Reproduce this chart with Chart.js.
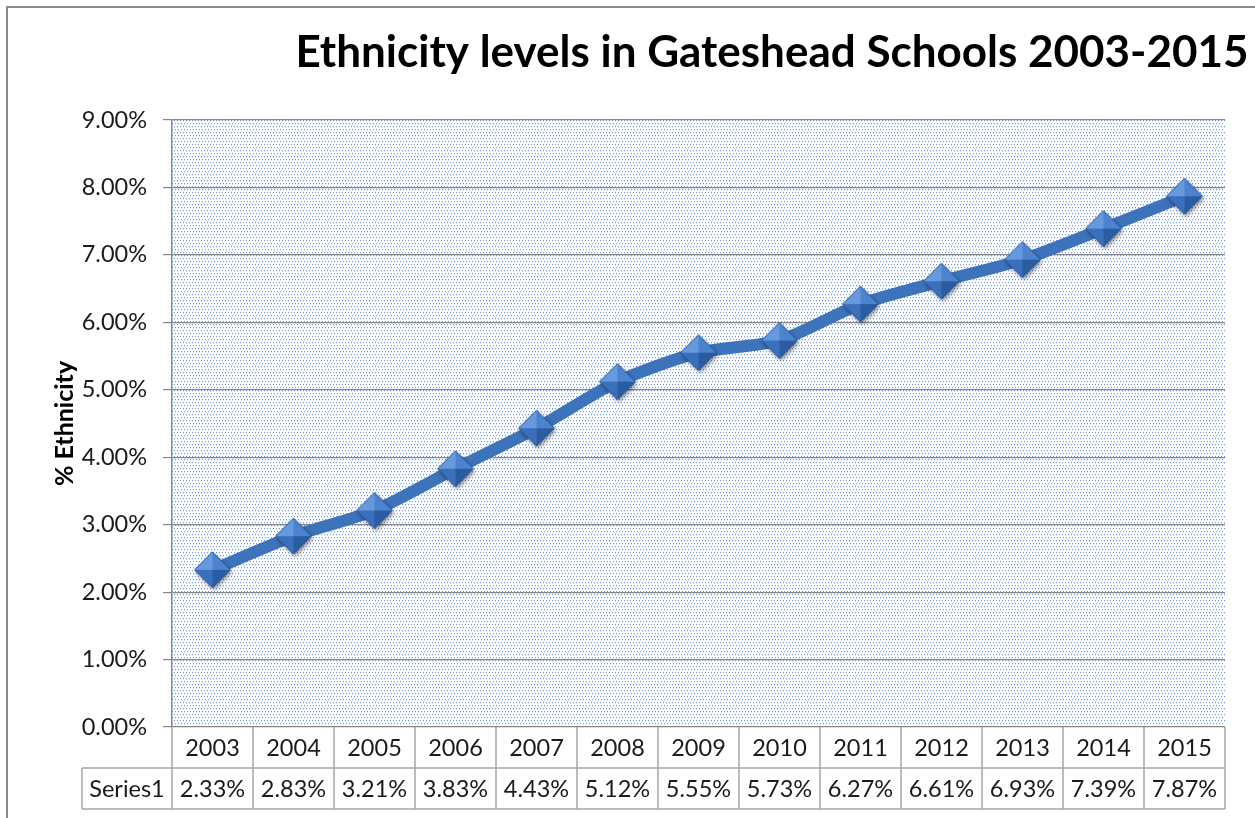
<!DOCTYPE html>
<html>
<head>
<meta charset="utf-8">
<script src="https://cdn.jsdelivr.net/npm/chart.js@4.4.0/dist/chart.umd.min.js"></script>
<style>
  html, body { margin: 0; padding: 0; background: #fff; overflow: hidden; }
  #wrap { width: 1255px; height: 818px; }
</style>
</head>
<body>
<div id="wrap"><canvas id="chart"></canvas></div>
<script>
// data
const years = ['2003', '2004', '2005', '2006', '2007', '2008', '2009', '2010', '2011', '2012', '2013', '2014', '2015'];
const ethnicity = [2.33, 2.83, 3.21, 3.83, 4.43, 5.12, 5.55, 5.73, 6.27, 6.61, 6.93, 7.39, 7.87];
const seriesName = 'Series1';
const chartTitle = 'Ethnicity levels in Gateshead Schools 2003-2015';
const yTitle = '% Ethnicity';

const FONT = 'Lato, "Open Sans", sans-serif';
const pct = v => v.toFixed(2) + '%';

// dotted fill of the plot area
function dotPattern(ctx) {
  const t = document.createElement('canvas');
  t.width = 6; t.height = 6;
  const g = t.getContext('2d');
  g.fillStyle = '#ffffff';
  g.fillRect(0, 0, 6, 6);
  g.fillStyle = '#6e9be0';
  [[0, 0], [3, 0], [1, 3], [4, 3]].forEach(p => g.fillRect(p[0], p[1], 1, 1));
  g.fillStyle = '#dbe6f7';
  [[0, 1], [3, 1], [1, 4], [4, 4]].forEach(p => g.fillRect(p[0], p[1], 1, 1));
  return ctx.createPattern(t, 'repeat');
}

// bevelled diamond marker
function diamond() {
  const s = 48, c = 24, r = 18;
  const cv = document.createElement('canvas');
  cv.width = s; cv.height = s;
  const g = cv.getContext('2d');
  const T = [c, c - r], R = [c + r, c], B = [c, c + r], L = [c - r, c];
  g.save();
  g.shadowColor = 'rgba(0,0,0,0.45)';
  g.shadowBlur = 4;
  g.shadowOffsetX = 1.5;
  g.shadowOffsetY = 2.5;
  g.beginPath();
  g.moveTo(T[0], T[1]); g.lineTo(R[0], R[1]); g.lineTo(B[0], B[1]); g.lineTo(L[0], L[1]);
  g.closePath();
  g.fillStyle = '#3a6fb8';
  g.fill();
  g.restore();
  const facet = (a, b, col) => {
    g.beginPath();
    g.moveTo(c, c); g.lineTo(a[0], a[1]); g.lineTo(b[0], b[1]);
    g.closePath();
    g.fillStyle = col;
    g.fill();
  };
  facet(L, T, '#659ade');
  facet(T, R, '#4c83cf');
  facet(L, B, '#3a70bb');
  facet(B, R, '#2b5ca2');
  g.beginPath();
  g.moveTo(T[0], T[1]); g.lineTo(R[0], R[1]); g.lineTo(B[0], B[1]); g.lineTo(L[0], L[1]);
  g.closePath();
  g.strokeStyle = '#2a5494';
  g.lineWidth = 1;
  g.stroke();
  return cv;
}

const framePlugin = {
  id: 'frame',
  beforeDraw(chart) {
    const { ctx, chartArea: a } = chart;
    ctx.save();
    ctx.fillStyle = '#ffffff';
    ctx.fillRect(0, 0, chart.width, chart.height);
    ctx.strokeStyle = '#8c8c8c';
    ctx.lineWidth = 2;
    ctx.beginPath();
    ctx.moveTo(7, chart.height);
    ctx.lineTo(7, 7);
    ctx.lineTo(chart.width, 7);
    ctx.stroke();
    ctx.fillStyle = dotPattern(ctx);
    ctx.fillRect(a.left, a.top, a.right - a.left, a.bottom - a.top);
    ctx.restore();
  },
  afterDraw(chart) {
    const { ctx, chartArea: a } = chart;
    const x = chart.scales.x;
    // title
    ctx.save();
    ctx.fillStyle = '#000000';
    ctx.font = 'bold 44px ' + FONT;
    ctx.textAlign = 'center';
    ctx.textBaseline = 'middle';
    ctx.fillText(chartTitle, 772, 53);

    // data table
    const n = years.length;
    const w = x.getPixelForValue(1) - x.getPixelForValue(0);
    const rowH = 41;
    const top = a.bottom, mid = top + rowH, bot = mid + rowH;
    const labelLeft = a.left - 90;
    ctx.strokeStyle = '#a6a6a6';
    ctx.lineWidth = 1.5;
    ctx.beginPath();
    ctx.moveTo(labelLeft, mid); ctx.lineTo(a.right, mid);
    ctx.moveTo(labelLeft, bot); ctx.lineTo(a.right, bot);
    ctx.moveTo(labelLeft, mid); ctx.lineTo(labelLeft, bot);
    for (let i = 0; i <= n; i++) {
      const px = i < n ? x.getPixelForValue(i) - w / 2 : x.getPixelForValue(n - 1) + w / 2;
      ctx.moveTo(px, top); ctx.lineTo(px, bot);
    }
    ctx.stroke();
    ctx.fillStyle = '#1a1a1a';
    ctx.font = '23.5px ' + FONT;
    ctx.textAlign = 'center';
    ctx.textBaseline = 'middle';
    years.forEach((y, i) => {
      const px = x.getPixelForValue(i);
      ctx.fillText(y, px, top + rowH / 2 + 1);
      ctx.fillText(pct(ethnicity[i]), px, mid + rowH / 2 + 1);
    });
    ctx.fillText(seriesName, (labelLeft + a.left) / 2, mid + rowH / 2 + 1);
    ctx.restore();
  }
};

const ctx = document.getElementById('chart').getContext('2d');
new Chart(ctx, {
  type: 'line',
  data: {
    labels: years,
    datasets: [{
      label: seriesName,
      data: ethnicity,
      borderColor: '#3d73bb',
      borderWidth: 12,
      tension: 0.25,
      pointStyle: diamond(),
      pointRadius: 18,
      pointHoverRadius: 18,
      clip: false
    }]
  },
  options: {
    responsive: true,
    maintainAspectRatio: false,
    animation: false,
    layout: { padding: { left: 46, top: 120, right: 27, bottom: 0 } },
    plugins: {
      legend: { display: false },
      title: { display: false },
      tooltip: { enabled: false }
    },
    scales: {
      x: {
        type: 'category',
        offset: true,
        grid: { display: false },
        border: { display: false },
        ticks: { display: false },
        afterFit(scale) { scale.height = 91; }
      },
      y: {
        min: 0,
        max: 9,
        ticks: {
          stepSize: 1,
          padding: 16,
          color: '#1a1a1a',
          font: { family: FONT, size: 23.5 },
          callback: v => pct(v)
        },
        grid: { color: '#868686', lineWidth: 1.2, tickLength: 9 },
        border: { color: '#868686', width: 1.5 },
        title: {
          display: true,
          text: yTitle,
          color: '#000000',
          font: { family: FONT, size: 25, weight: 'bold' }
        },
        afterFit(scale) { scale.width = 126; }
      }
    }
  },
  plugins: [framePlugin]
});
</script>
</body>
</html>
